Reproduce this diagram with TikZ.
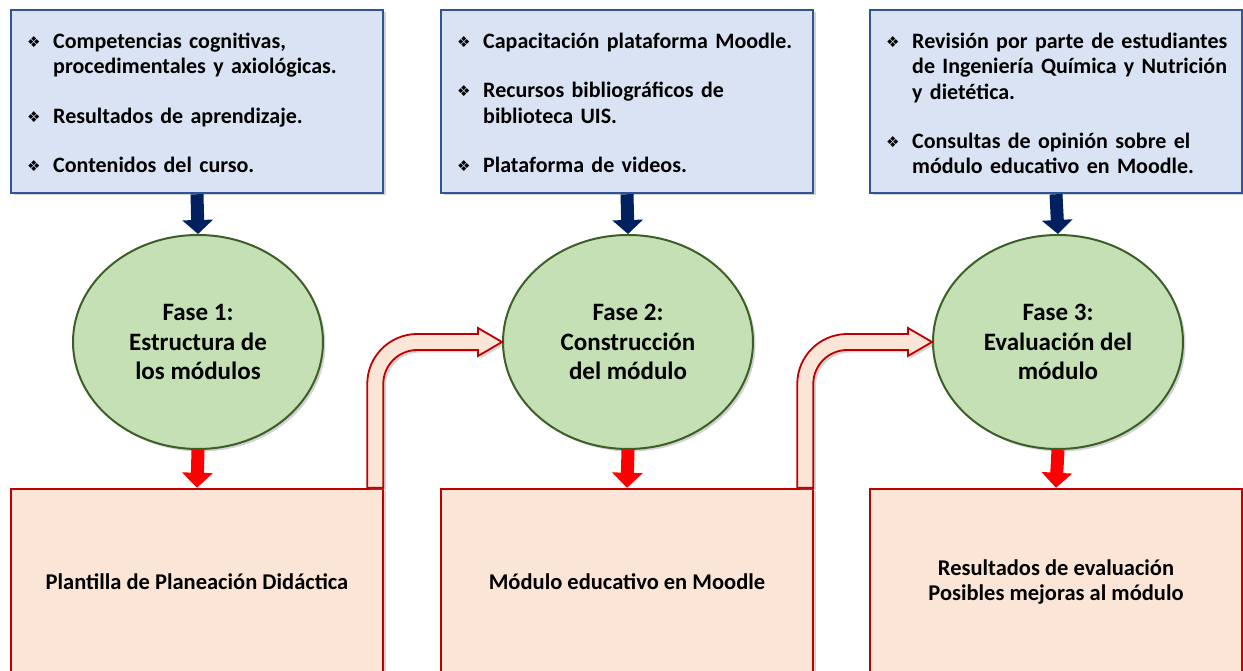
\documentclass[tikz,border=0pt]{standalone}
\usepackage{fontspec}
\setmainfont{Carlito}
\newfontfamily\symfont{DejaVu Sans}
\usetikzlibrary{arrows.meta,calc,shadows,shapes.geometric}

\definecolor{topfill}{HTML}{DAE3F3}
\definecolor{topdraw}{HTML}{2F5597}
\definecolor{fasefill}{HTML}{C5E0B4}
\definecolor{fasedraw}{HTML}{3B5F27}
\definecolor{resfill}{HTML}{FBE5D6}
\definecolor{resdraw}{HTML}{C00000}
\definecolor{navy}{HTML}{002060}
\definecolor{redarrow}{HTML}{FF0000}

% one bullet item of a top box
\newcommand{\itm}[1]{\par\noindent\hangindent=26pt\hangafter=1%
  \makebox[26pt][l]{\raisebox{1pt}{\symfont\fontsize{15}{15}\selectfont ❖}}#1\par}

\tikzset{
  softshadow/.style={drop shadow={opacity=0.35,shadow xshift=2.5pt,shadow yshift=-2.5pt}},
  topbox/.style={draw=topdraw,fill=topfill,line width=2.5pt,minimum width=372pt,
    minimum height=183pt,inner sep=0pt,softshadow},
  toptext/.style={anchor=north west,text width=355pt,inner sep=0pt,
    font=\bfseries\fontsize{22}{25.3}\selectfont},
  fase/.style={ellipse,draw=fasedraw,fill=fasefill,line width=2pt,minimum width=250pt,
    minimum height=214pt,align=center,inner sep=0pt,softshadow,
    font=\bfseries\fontsize{25}{29.5}\selectfont},
  resbox/.style={draw=resdraw,fill=resfill,line width=2.5pt,minimum width=372pt,
    minimum height=186pt,align=center,softshadow,
    font=\bfseries\fontsize{22.5}{25}\selectfont},
  bluedown/.style={navy,line width=13pt,-{Triangle[width=30pt,length=14pt]}},
  reddown/.style={redarrow,line width=13pt,-{Triangle[width=30pt,length=15pt]}},
  bentarrow/.style={draw=resdraw,fill=resfill,line width=1.8pt,line join=miter,softshadow}
}

\begin{document}
\begin{tikzpicture}[x=1pt,y=1pt]
  \clip (0,0) rectangle (1243,670);
  \fill[white] (0,0) rectangle (1243,670);

  % inputs of each phase
  \node[topbox] (c1) at (197,568.5) {};
  \node[topbox] (c2) at (627,568.5) {};
  \node[topbox] (c3) at (1056,568.5) {};
  \node[toptext] (t1) at (27,647) {\raggedright\itm{Competencias cognitivas,\newline procedimentales y axiológicas.}\vspace{24pt}%
    \itm{Resultados de aprendizaje.}\vspace{24pt}\itm{Contenidos del curso.}};
  \node[toptext] (t2) at (457,647) {\raggedright\itm{Capacitación plataforma Moodle.}\vspace{24pt}%
    \itm{Recursos bibliográficos de\newline biblioteca UIS.}\vspace{24pt}\itm{Plataforma de videos.}};
  \node[toptext] (t3) at (886,647) {\raggedright\itm{Revisión por parte de estudiantes\newline de Ingeniería Química y Nutrición\newline y dietética.}\vspace{24pt}%
    \itm{Consultas de opinión sobre el\newline módulo educativo en Moodle.}};

  % phases
  \node[fase] (f1) at (198,328) {Fase 1:\\Estructura de\\los módulos};
  \node[fase] (f2) at (628,328) {Fase 2:\\Construcción\\del módulo};
  \node[fase] (f3) at (1058,328) {Fase 3:\\Evaluación del\\módulo};

  % results of each phase
  \node[resbox] (p1) at (197,88) {Plantilla de Planeación Didáctica};
  \node[resbox] (p2) at (627,88) {Módulo educativo en Moodle};
  \node[resbox] (p3) at (1056,88) {Resultados de evaluación\\Posibles mejoras al módulo};

  % arrows down
  \foreach \i in {1,2,3} {
    \draw[bluedown] (c\i.south) -- (f\i.north);
    \draw[reddown] (f\i.south) -- (p\i.north);
  }

  % bent arrows from a result to the next phase
  \foreach \a/\b in {p1/f2,p2/f3} {
    \draw[bentarrow] let \p1=($(\a.north east)+(-9,0)$), \p2=(\b.west) in
      (\x1-8,\y1) -- (\x1-8,\y2-42) arc[start angle=180,end angle=90,radius=50]
      -- (\x2-24,\y2+8) -- (\x2-24,\y2+14) -- (\x2,\y2) -- (\x2-24,\y2-14)
      -- (\x2-24,\y2-8) -- (\x1+42,\y2-8) arc[start angle=90,end angle=180,radius=34]
      -- (\x1+8,\y1) -- cycle;
  }
\end{tikzpicture}
\end{document}
